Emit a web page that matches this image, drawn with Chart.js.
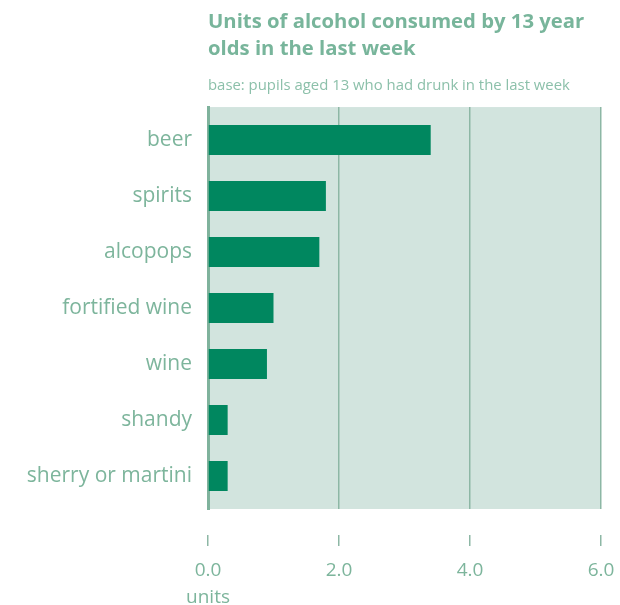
<!DOCTYPE html>
<html>
<head>
<meta charset="utf-8">
<script src="https://cdn.jsdelivr.net/npm/chart.js@4"></script>
<style>
  html, body { margin: 0; padding: 0; background: #ffffff; }
  #wrap { width: 620px; height: 605px; position: relative; }
</style>
</head>
<body>
<div id="wrap"><canvas id="c" width="620" height="605"></canvas></div>
<script>
const titleLines = ['Units of alcohol consumed by 13 year', 'olds in the last week'];
const subtitleText = 'base: pupils aged 13 who had drunk in the last week';
const categories = ['beer', 'spirits', 'alcopops', 'fortified wine', 'wine', 'shandy', 'sherry or martini'];
const units = [3.4, 1.8, 1.7, 1.0, 0.9, 0.3, 0.3];
const xTickValues = [0, 2, 4, 6];
const xTickLabels = ['0.0', '2.0', '4.0', '6.0'];
const axisUnit = 'units';

const FONT = "'Open Sans', 'Noto Sans', sans-serif";
const TEXT = '#7db59c';
const BAR = '#00875f';
const PLOT_BG = '#d2e4de';
const GRID = '#8db7a5';
const AXIS = '#7fb29c';

const plotBg = {
  id: 'plotBg',
  beforeDraw(chart) {
    const a = chart.chartArea, ctx = chart.ctx;
    ctx.save();
    ctx.fillStyle = PLOT_BG;
    ctx.fillRect(a.left, a.top, a.right - a.left, a.bottom - a.top);
    ctx.restore();
  },
  afterLayout(chart) {
    const y = chart.scales.y;
    const inset = 5;
    y._startPixel += inset;
    y._endPixel -= inset;
    y._length -= inset * 2;
  }
};

new Chart(document.getElementById('c'), {
  type: 'bar',
  data: {
    labels: categories,
    datasets: [{
      data: units,
      backgroundColor: BAR,
      borderWidth: 0,
      barPercentage: 0.536,
      categoryPercentage: 1.0
    }]
  },
  options: {
    indexAxis: 'y',
    responsive: false,
    animation: false,
    events: [],
    layout: { padding: { top: 9, right: 19, left: 0, bottom: 0 } },
    plugins: {
      legend: { display: false },
      tooltip: { enabled: false },
      title: {
        display: true,
        text: titleLines,
        align: 'start',
        fullSize: false,
        color: '#78b59b',
        font: { family: FONT, size: 20.3, weight: 'bold', lineHeight: 1.31 },
        padding: { top: 0, bottom: 15 }
      },
      subtitle: {
        display: true,
        text: subtitleText,
        align: 'start',
        fullSize: false,
        color: '#8cc0aa',
        font: { family: FONT, size: 14.9, weight: 'normal', lineHeight: 1.2 },
        padding: { top: 0, bottom: 12 }
      }
    },
    scales: {
      x: {
        type: 'linear',
        min: 0,
        max: 6,
        afterBuildTicks(scale) {
          scale.ticks = xTickValues.map(v => ({ value: v }));
        },
        afterFit(scale) {
          scale.height = 96;
          scale.paddingLeft = 0;
          scale.paddingRight = 0;
        },
        border: { display: false },
        grid: {
          display: true,
          drawOnChartArea: true,
          drawTicks: true,
          color: (ctx) => ctx.index === 0 ? 'rgba(0,0,0,0)' : GRID,
          lineWidth: 1.5,
          tickLength: 37,
          tickColor: GRID,
          tickWidth: 1.5,
          tickBorderDash: [0, 26, 11, 100]
        },
        ticks: {
          padding: 11,
          color: TEXT,
          font: { family: FONT, size: 19, lineHeight: 1.42 },
          maxRotation: 0,
          autoSkip: false,
          callback(value, index) {
            return index === 0 ? [xTickLabels[index], axisUnit] : xTickLabels[index];
          }
        }
      },
      y: {
        type: 'category',
        z: 1,
        afterFit(scale) { scale.width = 208; },
        border: { display: true, color: AXIS, width: 3 },
        grid: { display: false, drawTicks: false },
        ticks: {
          padding: 16,
          color: TEXT,
          font: { family: FONT, size: 21 }
        }
      }
    }
  },
  plugins: [plotBg]
});
</script>
</body>
</html>
